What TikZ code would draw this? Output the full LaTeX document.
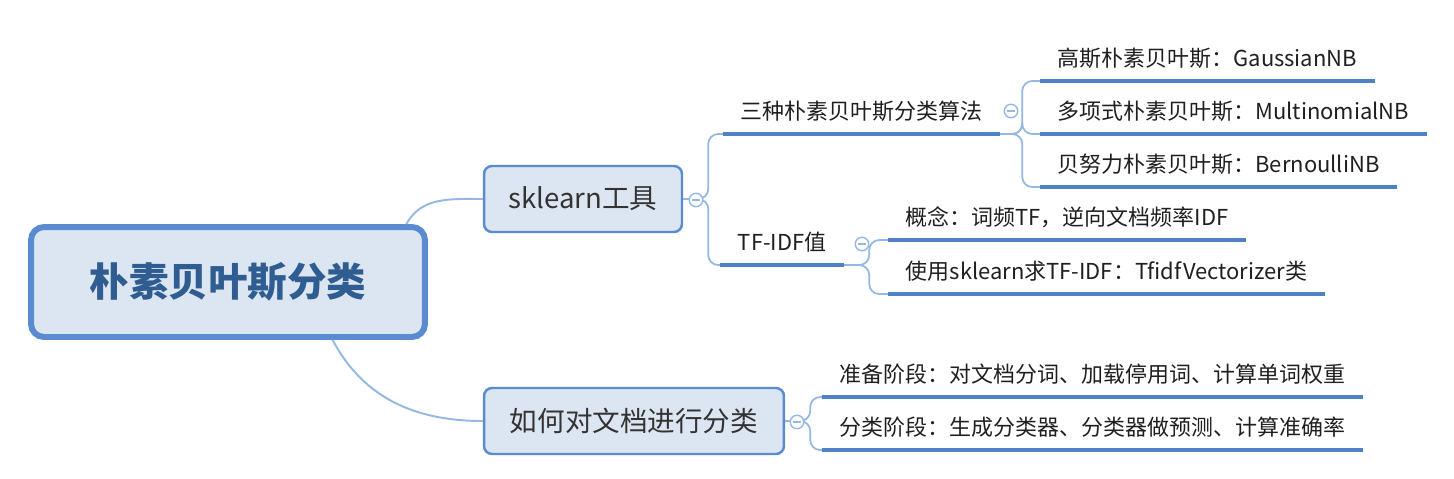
\documentclass[tikz,border=0pt]{standalone}
\usepackage{fontspec}
\setmainfont{Noto Sans CJK SC}
\usepackage{xcolor}

\definecolor{boxfill}{HTML}{DCE6F2}
\definecolor{boxline}{HTML}{5A8BD0}
\definecolor{linkblue}{HTML}{95B8E3}
\definecolor{ulineblue}{HTML}{4F81C7}
\definecolor{roottext}{HTML}{305D91}

\begin{document}
\begin{tikzpicture}[x=0.02cm, y=-0.02cm,
		rootbox/.style={draw=boxline, fill=boxfill, line width=3.4pt, rounded corners=0.26cm,
			minimum width=7.88cm, minimum height=2.2cm, text=roottext,
			font=\fontsize{22.5}{26}\selectfont\bfseries},
		subbox/.style={draw=boxline, fill=boxfill, line width=1.4pt, rounded corners=0.16cm,
			minimum height=1.32cm, text=black!80, font=\fontsize{15.7}{18}\selectfont},
		topic/.style={anchor=south west, inner xsep=0.35cm, inner ysep=6.3pt,
			text height=0.85em, text depth=0.15em, text=black!88,
			font=\fontsize{12.5}{14}\selectfont},
		fold/.style={circle, draw=linkblue, fill=white, line width=0.8pt, minimum size=0.27cm, inner sep=0pt,
			path picture={\draw[linkblue, line width=0.8pt]
				([xshift=-2pt]path picture bounding box.center) -- ([xshift=2pt]path picture bounding box.center);}},
		link/.style={draw=linkblue, line width=1.1pt},
		branch/.style={draw=linkblue, line width=1pt, rounded corners=0.2cm},
		uline/.style={draw=ulineblue, line width=2.3pt}]

		\useasboundingbox (0,0) rectangle (1454,478);

		\node [rootbox] (root) at (228,282) {朴素贝叶斯分类};

		\node [subbox, minimum width=3.96cm] (sk) at (583,199) {sklearn工具};
		\node [subbox, minimum width=6.0cm] (how) at (634,421) {如何对文档进行分类};

		\node [topic] (alg) at (723,134) {三种朴素贝叶斯分类算法};
		\node [topic] (tfidf) at (720,265) {TF-IDF值};

		\node [topic] (gauss) at (1040,81) {高斯朴素贝叶斯：GaussianNB};
		\node [topic] (multi) at (1040,134) {多项式朴素贝叶斯：MultinomialNB};
		\node [topic] (bern) at (1040,187) {贝努力朴素贝叶斯：BernoulliNB};

		\node [topic] (concept) at (888,240) {概念：词频TF，逆向文档频率IDF};
		\node [topic] (usage) at (888,294) {使用sklearn求TF-IDF：TfidfVectorizer类};

		\node [topic] (prep) at (822,397) {准备阶段：对文档分词、加载停用词、计算单词权重};
		\node [topic] (classify) at (822,450) {分类阶段：生成分类器、分类器做预测、计算准确率};

		\draw [link] (root.18) to[out=62, in=180] (sk.west);
		\draw [link] (root.-29) to[out=-62, in=180] (how.west);

		\foreach \n in {alg, tfidf}
			\draw [branch] (sk.east) -- ++(25,0) |- (\n.south west);
		\foreach \n in {gauss, multi, bern}
			\draw [branch] (alg.south east) -- ++(22,0) |- (\n.south west);
		\foreach \n in {concept, usage}
			\draw [branch] (tfidf.south east) -- ++(25,0) |- (\n.south west);
		\foreach \n in {prep, classify}
			\draw [branch] (how.east) -- ++(25,0) |- (\n.south west);

		\foreach \n in {alg, tfidf, gauss, multi, bern, concept, usage, prep, classify}
			\draw [uline] (\n.south west) -- (\n.south east);

		\node [fold] (f1) at (696,200) {};
		\node [fold] (f2) at (1011,111) {};
		\node [fold] (f3) at (862,244) {};
		\node [fold] (f4) at (797,422) {};
	\end{tikzpicture}
\end{document}
